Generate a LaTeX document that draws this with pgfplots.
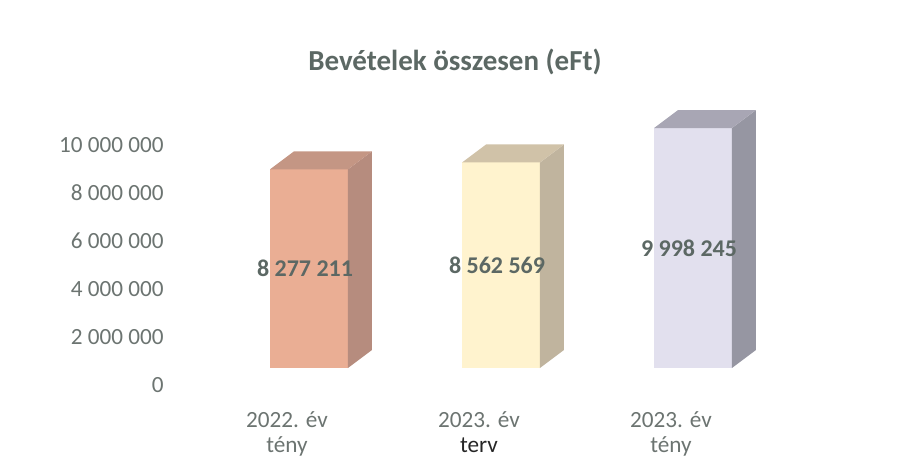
\documentclass[border=0pt]{standalone}
\usepackage{pgfplots}
\pgfplotsset{compat=1.18}
\usepackage{pgfplotstable}
\usepackage{fontspec}
\setmainfont{Carlito}
\definecolor{txtgray}{RGB}{92,104,100}
\definecolor{tickgray}{RGB}{108,116,113}
\definecolor{salF}{RGB}{234,174,148}
\definecolor{salT}{RGB}{196,150,132}
\definecolor{salS}{RGB}{182,140,126}
\definecolor{yelF}{RGB}{255,243,206}
\definecolor{yelT}{RGB}{208,194,168}
\definecolor{yelS}{RGB}{192,180,158}
\definecolor{lavF}{RGB}{226,224,238}
\definecolor{lavT}{RGB}{168,166,180}
\definecolor{lavS}{RGB}{150,150,162}
\pgfplotstableread[col sep=comma]{
x,v,lbl
0,8277211,8 277 211
1,8562569,8 562 569
2,9998245,9 998 245
}\datatable
\begin{document}
\begin{tikzpicture}[x=1pt,y=1pt]
\useasboundingbox (0,0) rectangle (448.5,230.5);
\node[font=\fontsize{14.5}{17}\selectfont\bfseries, text=txtgray] at (227.5,199.5) {Bevételek összesen (eFt)};
\begin{axis}[
  at={(106.5pt,46.5pt)}, anchor=south west,
  scale only axis, width=288pt, height=120pt,
  xmin=-0.5, xmax=2.5, ymin=0, ymax=10000000,
  clip=false, scaled y ticks=false,
  axis lines=left, axis line style={draw=none,-},
  tick style={draw=none},
  ytick={0,2000000,4000000,6000000,8000000,10000000},
  yticklabels={0,2 000 000,4 000 000,6 000 000,8 000 000,10 000 000},
  yticklabel style={font=\fontsize{11.6}{14}\selectfont, text=tickgray, anchor=east, xshift=-19pt, yshift=-8.5pt},
  xtick={0,1,2},
  xticklabels={{2022. év\\tény},{2023. év\\\textcolor{black!85}{terv}},{2023. év\\tény}},
  xticklabel style={font=\fontsize{11.6}{12.5}\selectfont, text=tickgray, align=center, xshift=-11pt, yshift=-16pt},
]
% bar 1
\addplot[ybar, bar shift=0pt, bar width=0.406, fill=salF, draw=none] coordinates {(0,8277211)};
\addplot[fill=salS, draw=none] coordinates {(0.203,0) (0.328,750000) (0.328,9027211) (0.203,8277211)} -- cycle;
\addplot[fill=salT, draw=none] coordinates {(-0.203,8277211) (0.203,8277211) (0.328,9027211) (-0.078,9027211)} -- cycle;
% bar 2
\addplot[ybar, bar shift=0pt, bar width=0.406, fill=yelF, draw=none] coordinates {(1,8562569)};
\addplot[fill=yelS, draw=none] coordinates {(1.203,0) (1.328,750000) (1.328,9312569) (1.203,8562569)} -- cycle;
\addplot[fill=yelT, draw=none] coordinates {(0.797,8562569) (1.203,8562569) (1.328,9312569) (0.922,9312569)} -- cycle;
% bar 3
\addplot[ybar, bar shift=0pt, bar width=0.406, fill=lavF, draw=none] coordinates {(2,9998245)};
\addplot[fill=lavS, draw=none] coordinates {(2.203,0) (2.328,750000) (2.328,10748245) (2.203,9998245)} -- cycle;
\addplot[fill=lavT, draw=none] coordinates {(1.797,9998245) (2.203,9998245) (2.328,10748245) (1.922,10748245)} -- cycle;
% data labels
\addplot[draw=none, mark=none, point meta=explicit symbolic, nodes near coords,
  nodes near coords style={anchor=center, xshift=-2pt, font=\fontsize{12}{14}\selectfont\bfseries, text=txtgray}]
  table[x=x, y expr=\thisrow{v}/2, meta=lbl] {\datatable};
\end{axis}
\end{tikzpicture}
\end{document}
